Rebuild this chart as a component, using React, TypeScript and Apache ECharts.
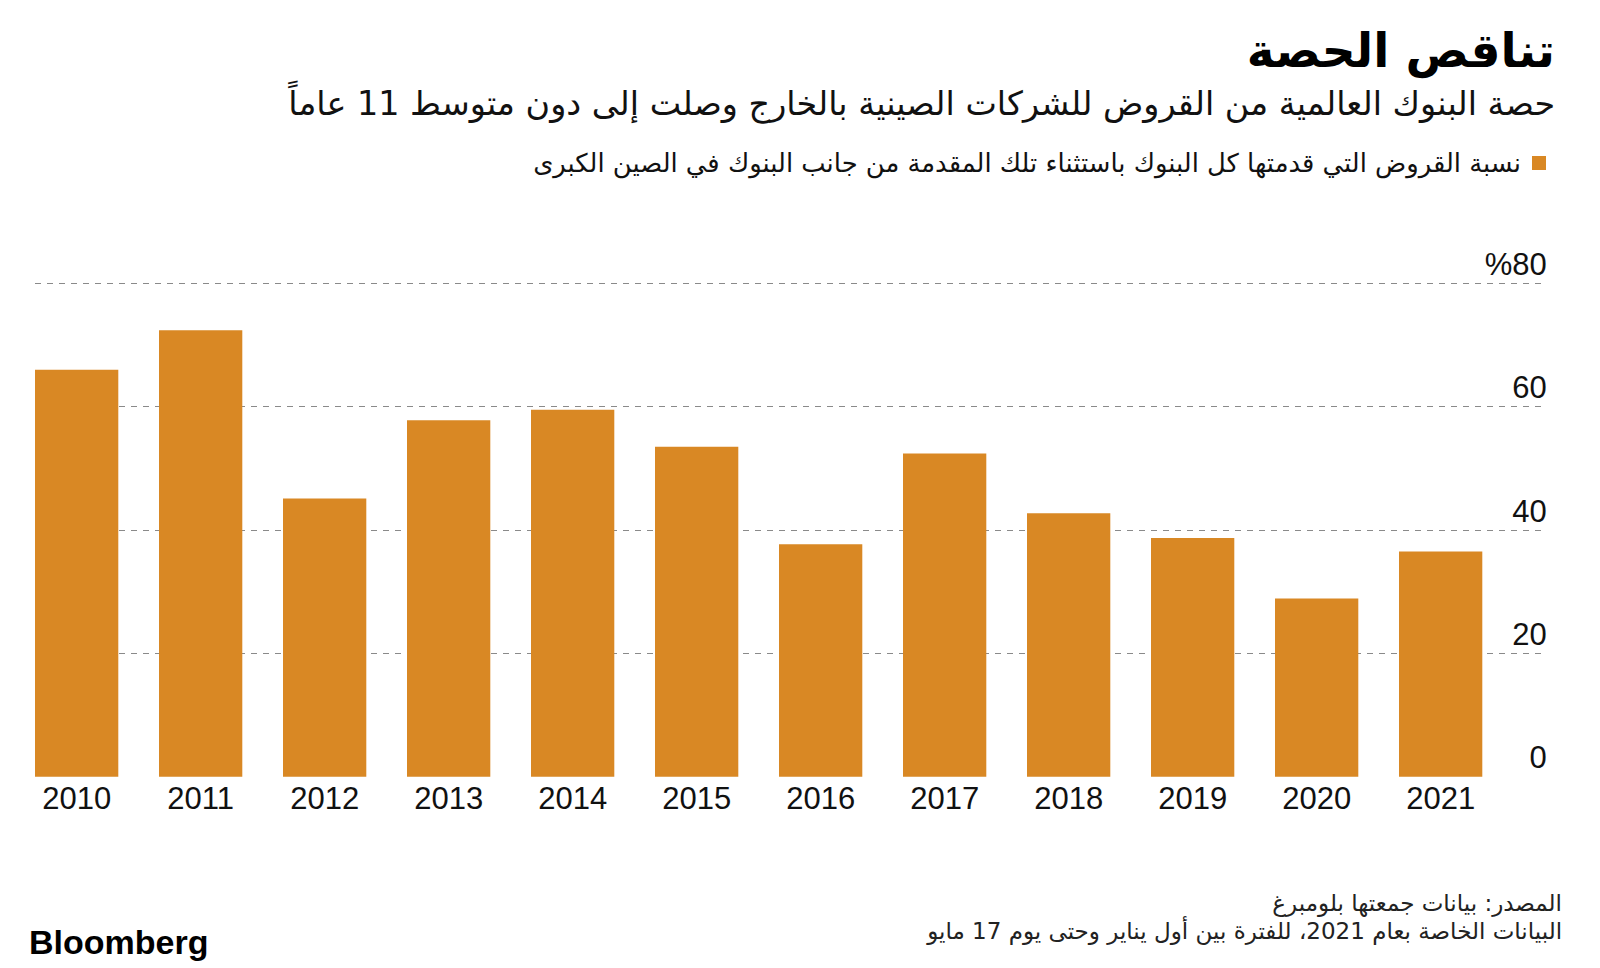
import React, { useEffect, useRef } from "react";
import * as echarts from "echarts";

const years = ["2010", "2011", "2012", "2013", "2014", "2015", "2016", "2017", "2018", "2019", "2020", "2021"];
const shares = [66, 72.4, 45.1, 57.8, 59.5, 53.5, 37.7, 52.4, 42.7, 38.7, 28.9, 36.5];
const yTicks = [0, 20, 40, 60, 80];

const titleText = "تناقص الحصة";
const subtitleText = "حصة البنوك العالمية من القروض للشركات الصينية بالخارج وصلت إلى دون متوسط 11 عاماً";
const seriesName = "نسبة القروض التي قدمتها كل البنوك باستثناء تلك المقدمة من جانب البنوك في الصين الكبرى";
const sourceLine = "المصدر: بيانات جمعتها بلومبرغ";
const noteLine = "البيانات الخاصة بعام 2021، للفترة بين أول يناير وحتى يوم 17 مايو";

const ARABIC = "'DejaVu Sans', 'Noto Sans', sans-serif";
const LATIN = "'Liberation Sans', Arial, sans-serif";
const BAR = "#D98824";

export default function App() {
  const ref = useRef<HTMLDivElement>(null);
  useEffect(() => {
    document.body.style.margin = "0";
    const chart = echarts.init(ref.current!, undefined, { renderer: "svg" });
    const top = 283.3;
    const bottom = 968 - 776.7;
    chart.setOption({
      animation: false,
      backgroundColor: "#ffffff",
      legend: {
        right: 49,
        top: 145,
        align: "right",
        icon: "rect",
        itemWidth: 14,
        itemHeight: 14,
        data: [seriesName],
        textStyle: { fontFamily: ARABIC, fontSize: 25.8, color: "#111", padding: [0, 6, 0, 0] },
      },
      grid: [
        { left: 14.65, width: 1488, top, bottom, containLabel: false },
        { left: 35, right: 56.7, top, bottom, containLabel: false },
      ],
      xAxis: [
        {
          type: "category",
          gridIndex: 0,
          data: years,
          axisLine: { show: false },
          axisTick: { show: false },
          axisLabel: { margin: 6, fontFamily: LATIN, fontSize: 31, color: "#111" },
        },
        { type: "category", gridIndex: 1, data: years, show: false },
      ],
      yAxis: [
        { type: "value", gridIndex: 0, min: 0, max: 80, interval: 20, show: false },
        {
          type: "value",
          gridIndex: 1,
          position: "right",
          min: 0,
          max: 80,
          interval: 20,
          axisLine: { show: false },
          axisTick: { show: false },
          splitLine: {
            show: true,
            showMinLine: false,
            lineStyle: { color: "#8a8a8a", width: 1, type: [6, 6] },
          },
          axisLabel: {
            margin: 3.4,
            align: "right",
            verticalAlign: "bottom",
            lineHeight: 38,
            fontFamily: LATIN,
            fontSize: 31,
            color: "#111",
            formatter: (v: number) => (v === yTicks[yTicks.length - 1] ? "%" + v : String(v)),
          },
        },
      ],
      series: [
        {
          name: seriesName,
          type: "bar",
          xAxisIndex: 0,
          yAxisIndex: 0,
          data: shares,
          barWidth: 83.3,
          itemStyle: { color: BAR },
          z: 3,
        },
      ],
      graphic: [
        {
          type: "text",
          right: 45,
          top: 27,
          style: { text: titleText, fontFamily: ARABIC, fontSize: 47, fontWeight: "bold", fill: "#000" },
        },
        {
          type: "text",
          right: 45,
          top: 87,
          style: { text: subtitleText, fontFamily: ARABIC, fontSize: 33.4, fill: "#111" },
        },
        {
          type: "text",
          right: 38,
          top: 891,
          style: { text: sourceLine, fontFamily: ARABIC, fontSize: 23, fill: "#222" },
        },
        {
          type: "text",
          right: 38,
          top: 919,
          style: { text: noteLine, fontFamily: ARABIC, fontSize: 23, fill: "#222" },
        },
        {
          type: "text",
          left: 29,
          top: 925,
          style: { text: "Bloomberg", fontFamily: LATIN, fontSize: 34, fontWeight: 900, fill: "#000" },
        },
      ],
    });
    return () => chart.dispose();
  }, []);
  return <div ref={ref} style={{ width: 1600, height: 968 }} />;
}
